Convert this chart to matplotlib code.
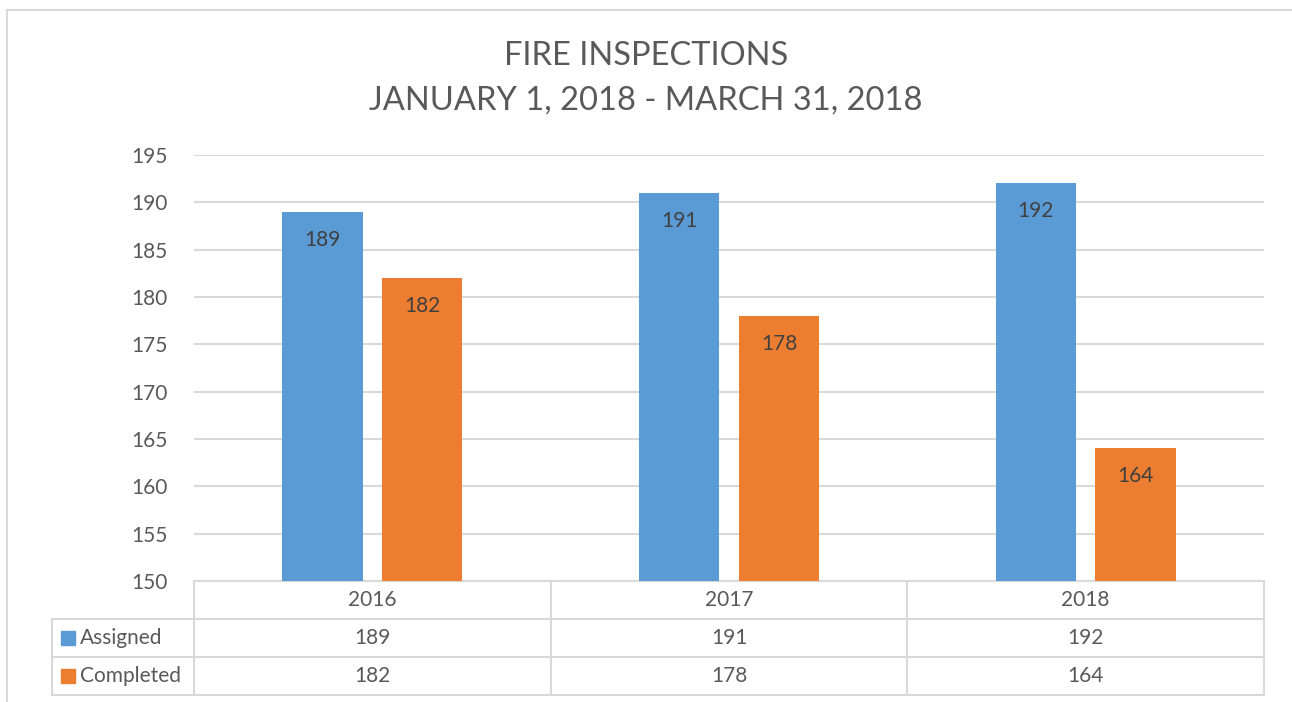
import matplotlib
matplotlib.use("Agg")
import matplotlib.pyplot as plt
from matplotlib.patches import Rectangle
from matplotlib.transforms import blended_transform_factory
import numpy as np

years = ["2016", "2017", "2018"]
assigned = [189, 191, 192]
completed = [182, 178, 164]
series_names = ["Assigned", "Completed"]
title_lines = ["FIRE INSPECTIONS", "JANUARY 1, 2018 - MARCH 31, 2018"]

blue = "#5B9BD5"
orange = "#ED7D31"
txt = "#595959"
grid = "#D9D9D9"

plt.rcParams['font.family'] = ['Lato', 'DejaVu Sans']

W, H = 1292, 702
fig = plt.figure(figsize=(W / 100, H / 100), dpi=100)
fig.patch.set_facecolor("white")

# outer chart border (right/bottom edges run off the image)
fig.add_artist(Rectangle((7 / W, -0.05), 1.1, 1 - 10 / H + 0.05, transform=fig.transFigure,
                         fill=False, edgecolor=grid, lw=1.5))

ax = fig.add_axes([194 / W, 1 - 581 / H, (1264 - 194) / W, (581 - 155) / H])
x = np.arange(len(years))
bw = 0.225
off = 0.14
b1 = ax.bar(x - off, assigned, bw, color=blue, zorder=3)
b2 = ax.bar(x + off, completed, bw, color=orange, zorder=3)

fs = 15
for bars, vals in ((b1, assigned), (b2, completed)):
    for rect, v in zip(bars, vals):
        ax.annotate(str(v), (rect.get_x() + rect.get_width() / 2, v), xytext=(0, -28),
                    textcoords="offset pixels", ha="center", va="center",
                    fontsize=fs, color="#404040", zorder=4)

ax.set_ylim(150, 195)
ax.set_xlim(-0.5, len(years) - 0.5)
ax.set_yticks(np.arange(150, 196, 5))
ax.yaxis.grid(True, color=grid, lw=1.5, zorder=0)
ax.set_xticks([])
for s in ax.spines.values():
    s.set_visible(False)
ax.tick_params(axis="y", length=0, pad=19, labelsize=fs, labelcolor=txt)

fig.text(0.5, 1 - 56 / H, title_lines[0], ha="center", va="center", fontsize=23.5, color=txt)
fig.text(0.5, 1 - 101 / H, title_lines[1], ha="center", va="center", fontsize=23.5, color=txt)

# data table below the axis
tr = blended_transform_factory(ax.transData, ax.transAxes)
ah = 581 - 155
row_h = 38 / ah
y0 = 0.0
y1 = -row_h
y2 = -2 * row_h
y3 = -3 * row_h
xl = -0.5 - 142 / 357
xr = len(years) - 0.5
kw = dict(color=grid, lw=1.5, transform=tr, clip_on=False)
ax.plot([-0.5, xr], [y0, y0], **kw)
for yy in (y1, y2, y3):
    ax.plot([xl, xr], [yy, yy], **kw)
for xx in np.arange(-0.5, len(years), 1.0):
    ax.plot([xx, xx], [y0, y3], **kw)
ax.plot([xl, xl], [y1, y3], **kw)

for i, yr in enumerate(years):
    ax.text(i, (y0 + y1) / 2, yr, transform=tr, ha="center", va="center", fontsize=fs, color=txt)
for r, (name, vals, col) in enumerate(((series_names[0], assigned, blue),
                                        (series_names[1], completed, orange))):
    yc = -(r + 1.5) * row_h
    for i, v in enumerate(vals):
        ax.text(i, yc, str(v), transform=tr, ha="center", va="center", fontsize=fs, color=txt)
    ax.add_patch(Rectangle((xl + 9 / 357, yc - 7 / ah), 14 / 357, 14 / ah, transform=tr,
                           color=col, clip_on=False))
    ax.text(xl + 28 / 357, yc, name, transform=tr, ha="left", va="center", fontsize=fs, color=txt)

fig.savefig("out.png", dpi=100)
